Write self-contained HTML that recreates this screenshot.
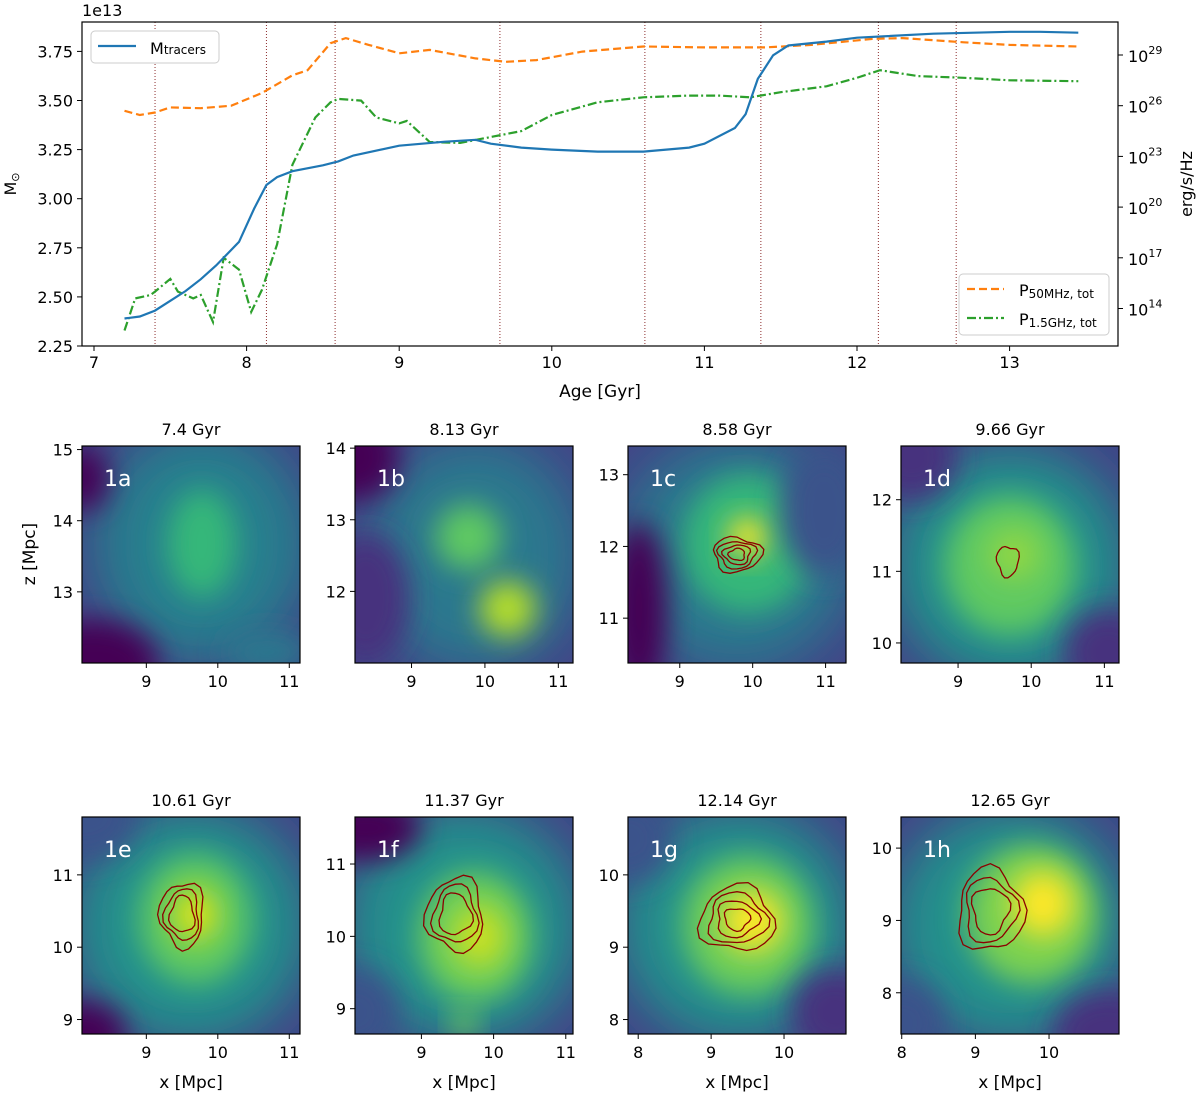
<!DOCTYPE html>
<html><head><meta charset="utf-8">
<style>
html,body{margin:0;padding:0;background:#fff;}
svg{display:block;font-family:"DejaVu Sans","Liberation Sans",sans-serif;}
</style></head>
<body>
<svg id="fig" width="1200" height="1094" viewBox="0 0 1200 1094" xmlns="http://www.w3.org/2000/svg">
<defs>
<filter id="blur" x="-50%" y="-50%" width="200%" height="200%"><feGaussianBlur stdDeviation="26"/></filter>
<filter id="blur2" x="-50%" y="-50%" width="200%" height="200%"><feGaussianBlur stdDeviation="14"/></filter>
</defs>
<g id="topchart"></g>
<g id="panels"></g>
</svg>
<script>
// ---- top chart data ----
const snapAges = [7.4, 8.13, 8.58, 9.66, 10.61, 11.37, 12.14, 12.65];
const xTicks = [7, 8, 9, 10, 11, 12, 13];
const yTicksM = [2.25, 2.50, 2.75, 3.00, 3.25, 3.50, 3.75];
const yTicksP = [14, 17, 20, 23, 26, 29];
const massAges = [7.2,7.3,7.4,7.5,7.6,7.7,7.8,7.95,8.05,8.13,8.2,8.3,8.5,8.6,8.7,9.0,9.3,9.5,9.6,9.8,10.0,10.3,10.6,10.9,11.0,11.2,11.27,11.35,11.45,11.55,11.8,12.0,12.5,13.0,13.2,13.45];
const massVals = [2.39,2.40,2.43,2.48,2.53,2.59,2.66,2.78,2.95,3.07,3.11,3.14,3.17,3.19,3.22,3.27,3.29,3.30,3.28,3.26,3.25,3.24,3.24,3.26,3.28,3.36,3.43,3.61,3.73,3.78,3.80,3.82,3.84,3.85,3.85,3.845];
const p50Ages = [7.2,7.3,7.4,7.5,7.7,7.9,8.1,8.3,8.4,8.55,8.65,8.8,9.0,9.2,9.5,9.7,9.9,10.2,10.6,11.0,11.4,11.7,12.1,12.3,12.7,13.0,13.45];
const p50Vals = [25.7,25.45,25.6,25.9,25.85,26.0,26.75,27.8,28.1,29.7,30.0,29.6,29.1,29.3,28.8,28.6,28.7,29.2,29.5,29.45,29.45,29.6,29.95,30.0,29.75,29.6,29.5];
const p15Ages = [7.2,7.27,7.37,7.4,7.5,7.55,7.65,7.7,7.78,7.85,7.95,8.03,8.1,8.2,8.3,8.45,8.55,8.6,8.75,8.85,9.0,9.05,9.2,9.4,9.6,9.8,10.0,10.3,10.6,10.9,11.1,11.3,11.5,11.8,12.0,12.15,12.4,12.7,13.0,13.45];
const p15Vals = [12.7,14.6,14.8,15.0,15.75,15.0,14.6,14.8,13.2,17.0,16.3,13.8,15.1,17.8,22.5,25.3,26.2,26.4,26.3,25.3,24.95,25.1,23.85,23.8,24.15,24.5,25.45,26.2,26.5,26.6,26.6,26.5,26.8,27.15,27.65,28.1,27.75,27.65,27.5,27.45];

// ---- panel data ----
const panelTitles = ["7.4 Gyr","8.13 Gyr","8.58 Gyr","9.66 Gyr","10.61 Gyr","11.37 Gyr","12.14 Gyr","12.65 Gyr"];
const panelLabels = ["1a","1b","1c","1d","1e","1f","1g","1h"];
const panelXRange = [[8.1,11.15],[8.23,11.2],[8.29,11.28],[8.22,11.2],[8.1,11.15],[8.08,11.1],[7.86,10.85],[7.99,10.95]];
const panelYRange = [[12.0,15.05],[11.0,14.03],[10.375,13.4],[9.72,12.75],[8.8,11.8],[8.65,11.65],[7.8,10.8],[7.43,10.43]];
const panelXTicks = [[9,10,11],[9,10,11],[9,10,11],[9,10,11],[9,10,11],[9,10,11],[8,9,10],[8,9,10]];
const panelYTicks = [[13,14,15],[12,13,14],[11,12,13],[10,11,12],[9,10,11],[9,10,11],[8,9,10],[8,9,10]];

const NS="http://www.w3.org/2000/svg";
function el(tag, attrs, parent){const e=document.createElementNS(NS,tag);for(const k in attrs)e.setAttribute(k,attrs[k]);parent.appendChild(e);return e;}
const topG=document.getElementById('topchart');
const L=82,R=1118,T=22,B=346;
const xA=a=>94+(a-7)*152.6;
const yM=m=>346-(m-2.25)*196.4;
const yP=p=>55+(29-p)*16.9;

el('rect',{x:L,y:T,width:R-L,height:B-T,fill:'#fff',stroke:'none'},topG);
snapAges.forEach(a=>{
  const l=el('line',{x1:xA(a),x2:xA(a),y1:T,y2:B,stroke:'#8c2d2d','stroke-width':1,'stroke-dasharray':'1,2'},topG);
  
  
});
function linePath(ages,vals,yf){return ages.map((a,i)=>(i?'L':'M')+xA(a).toFixed(1)+','+yf(vals[i]).toFixed(1)).join(' ');}
let pth=el('path',{d:linePath(p50Ages,p50Vals,yP),fill:'none',stroke:'#ff7f0e','stroke-width':2.2,'stroke-dasharray':'8,4'},topG);


pth=el('path',{d:linePath(p15Ages,p15Vals,yP),fill:'none',stroke:'#2ca02c','stroke-width':2.2,'stroke-dasharray':'9,3,2,3'},topG);


pth=el('path',{d:linePath(massAges,massVals,yM),fill:'none',stroke:'#1f77b4','stroke-width':2.2},topG);


el('rect',{x:L,y:T,width:R-L,height:B-T,fill:'none',stroke:'#000','stroke-width':1.2},topG);
xTicks.forEach(v=>{
  el('line',{x1:xA(v),x2:xA(v),y1:B,y2:B+5,stroke:'#000'},topG);
  const t=el('text',{x:xA(v),y:B+22,'text-anchor':'middle','font-size':16},topG);t.textContent=v;
  
  
});
yTicksM.forEach(v=>{
  el('line',{x1:L-5,x2:L,y1:yM(v),y2:yM(v),stroke:'#000'},topG);
  const t=el('text',{x:L-9,y:yM(v)+6,'text-anchor':'end','font-size':16},topG);t.textContent=v.toFixed(2);
  
  
});
yTicksP.forEach(v=>{
  el('line',{x1:R,x2:R+5,y1:yP(v),y2:yP(v),stroke:'#000'},topG);
  const t=el('text',{x:R+10,y:yP(v)+7,'font-size':16},topG);
  
  
  t.innerHTML='10<tspan dy="-8" font-size="11">'+v+'</tspan>';
});
let tx=el('text',{x:82,y:16,'font-size':16},topG);tx.textContent='1e13';


tx=el('text',{x:600,y:397,'text-anchor':'middle','font-size':17},topG);tx.textContent='Age [Gyr]';


tx=el('text',{x:0,y:0,'text-anchor':'middle','font-size':16,transform:'translate(16,184) rotate(-90)'},topG);tx.innerHTML='M<tspan font-size="11" dy="3">⊙</tspan>';


tx=el('text',{x:0,y:0,'text-anchor':'middle','font-size':16,transform:'translate(1192,184) rotate(-90)'},topG);tx.textContent='erg/s/Hz';


let lg=el('g',{},topG);


el('rect',{x:91,y:31,width:128,height:32,rx:4,fill:'#fff',stroke:'#ccc'},lg);
el('line',{x1:98,x2:136,y1:46,y2:46,stroke:'#1f77b4','stroke-width':2.2},lg);
tx=el('text',{x:150,y:54,'font-size':16},lg);tx.innerHTML='M<tspan font-size="12">tracers</tspan>';
lg=el('g',{},topG);


el('rect',{x:959,y:274,width:150,height:61,rx:4,fill:'#fff',stroke:'#ccc'},lg);
el('line',{x1:967,x2:1004,y1:289,y2:289,stroke:'#ff7f0e','stroke-width':2.2,'stroke-dasharray':'8,4'},lg);
el('line',{x1:967,x2:1004,y1:318,y2:318,stroke:'#2ca02c','stroke-width':2.2,'stroke-dasharray':'9,3,2,3'},lg);
tx=el('text',{x:1019,y:296,'font-size':16},lg);tx.innerHTML='P<tspan font-size="12" dy="2">50MHz, tot</tspan>';
tx=el('text',{x:1019,y:325,'font-size':16},lg);tx.innerHTML='P<tspan font-size="12" dy="2">1.5GHz, tot</tspan>';

// ---- panels ----
const pg=document.getElementById('panels');
const colX=[82,355,628,901], rowY=[446,817], PW=218, PH=217;
const blobs=[
 [['#277f8e',.55,.45,.5,.55],['#35b779',.55,.45,.16,.25],['#440154',.0,.15,.12,.15],['#440154',.05,1,.3,.2],['#2a788e',.85,.95,.2,.1]],
 [['#2a788e',.55,.5,.5,.55],['#5ec962',.52,.42,.15,.15],['#b5de2b',.7,.75,.13,.13],['#440154',.0,.05,.2,.2],['#46307e',.05,.7,.2,.3]],
 [['#2a788e',.5,.5,.55,.55],['#35b779',.55,.45,.3,.32],['#fde725',.55,.42,.09,.09],['#440154',.05,.75,.13,.4],['#3b528b',.9,.3,.2,.3]],
 [['#21918c',.5,.55,.55,.55],['#5ec962',.5,.55,.3,.32],['#8fd744',.52,.5,.12,.12],['#46307e',.05,.05,.2,.2],['#46307e',.95,.95,.2,.2]],
 [['#21918c',.5,.5,.55,.55],['#5ec962',.52,.47,.26,.3],['#dde318',.52,.45,.1,.12],['#440154',.0,1,.2,.15],['#3b528b',.0,.0,.25,.2]],
 [['#21918c',.5,.5,.55,.55],['#6ccd5a',.55,.55,.26,.3],['#c8e020',.57,.55,.12,.14],['#440154',.05,.05,.25,.15],['#3b528b',.0,.9,.2,.2],['#7ad151',.5,.95,.06,.06]],
 [['#21918c',.5,.5,.55,.55],['#6ccd5a',.55,.5,.3,.32],['#fde725',.57,.48,.14,.14],['#46307e',.95,.9,.2,.2],['#3b528b',.0,.1,.2,.2]],
 [['#21918c',.5,.5,.55,.55],['#7ad151',.6,.45,.3,.32],['#fde725',.65,.4,.14,.15],['#46307e',.95,1,.25,.2],['#3b528b',.0,.95,.2,.2]]
];
const contourSpec=[null,null,[[.5,.5,.11,.08,4]],[[.49,.53,.05,.07,1]],[[.46,.45,.1,.15,3]],[[.46,.45,.13,.17,3]],[[.5,.47,.17,.15,4]],[[.41,.43,.15,.19,3]]];
for(let i=0;i<8;i++){
  const x0=colX[i%4], y0=rowY[Math.floor(i/4)];
  const g=el('g',{},pg);
  
  
  const cp=el('clipPath',{id:'cp'+i},g);el('rect',{x:x0,y:y0,width:PW,height:PH},cp);
  const ig=el('g',{'clip-path':'url(#cp'+i+')'},g);
  el('rect',{x:x0,y:y0,width:PW,height:PH,fill:'#414487'},ig);
  blobs[i].forEach((b,j)=>{
    el('ellipse',{cx:x0+b[1]*PW,cy:y0+b[2]*PH,rx:b[3]*PW,ry:b[4]*PH,fill:b[0],filter:j==0?'url(#blur)':'url(#blur2)'},ig);
  });
  (contourSpec[i]||[]).forEach(c=>{
    for(let k=0;k<c[4];k++){
      const s=1-k*0.22, pts=[];
      for(let a=0;a<24;a++){const th=a/24*Math.PI*2;const w=1+0.12*Math.sin(th*3+k+i)+0.06*Math.cos(th*5+i);
        pts.push((x0+c[0]*PW+Math.cos(th)*c[2]*PW*s*w).toFixed(1)+','+(y0+c[1]*PH+Math.sin(th)*c[3]*PH*s*w).toFixed(1));}
      const pc=el('polygon',{points:pts.join(' '),fill:'none',stroke:'#8b0000','stroke-width':1.3},ig);
      
      
    }
  });
  el('rect',{x:x0,y:y0,width:PW,height:PH,fill:'none',stroke:'#000','stroke-width':1.2},g);
  const xr=panelXRange[i], yr=panelYRange[i];
  const px=v=>x0+(v-xr[0])/(xr[1]-xr[0])*PW, py=v=>y0+PH-(v-yr[0])/(yr[1]-yr[0])*PH;
  panelXTicks[i].forEach(v=>{el('line',{x1:px(v),x2:px(v),y1:y0+PH,y2:y0+PH+5,stroke:'#000'},g);
    const t=el('text',{x:px(v),y:y0+PH+24,'text-anchor':'middle','font-size':16},g);t.textContent=v;});
  panelYTicks[i].forEach(v=>{el('line',{x1:x0-5,x2:x0,y1:py(v),y2:py(v),stroke:'#000'},g);
    const t=el('text',{x:x0-9,y:py(v)+6,'text-anchor':'end','font-size':16},g);t.textContent=v;});
  let tt=el('text',{x:x0+PW/2,y:y0-11,'text-anchor':'middle','font-size':16},g);tt.textContent=panelTitles[i];
  
  
  tt=el('text',{x:x0+22,y:y0+40,'font-size':22,fill:'#fff'},g);tt.textContent=panelLabels[i];
  
  
  if(i>=4){tt=el('text',{x:x0+PW/2,y:1088,'text-anchor':'middle','font-size':17},g);tt.textContent='x [Mpc]';
    
    }
}
tx=el('text',{x:0,y:0,'text-anchor':'middle','font-size':17,transform:'translate(35,554) rotate(-90)'},pg);tx.textContent='z [Mpc]';


</script>
</body></html>
